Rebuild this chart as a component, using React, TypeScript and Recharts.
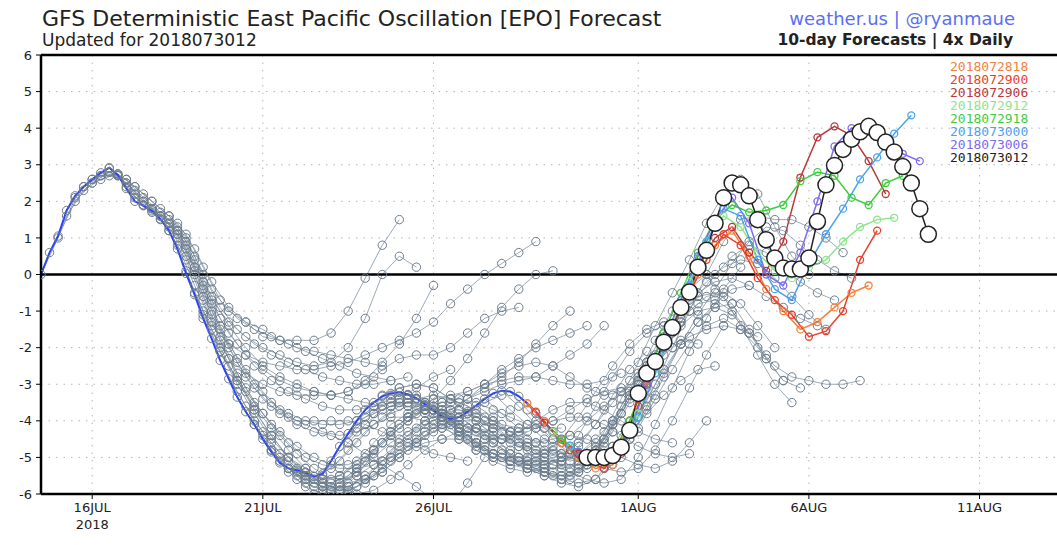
import { LineChart, Line, XAxis, YAxis, CartesianGrid, ReferenceLine } from "recharts"

// x = days since 16 JUL 2018 00Z
const dayTicks = [0, 5, 10, 16, 21, 26]
const dayLabels = ["16JUL", "21JUL", "26JUL", "1AUG", "6AUG", "11AUG"]
const valueTicks = [-6, -5, -4, -3, -2, -1, 0, 1, 2, 3, 4, 5, 6]

// verifying analysis, 6-hourly from 14 JUL 12Z
const analysisStart = -1.5
const analysis = [
  0, 0.6, 1.05, 1.75, 2.15, 2.4, 2.6,
  2.78, 2.92, 2.72, 2.35, 2.0, 1.88, 1.74, 1.52, 1.2, 0.7, 0.03, -0.55,
  -1.2, -1.75, -2.35, -2.85, -3.35, -3.75, -4.1, -4.5, -4.85, -5.15, -5.3, -5.35,
  -5.42, -5.52, -5.45, -5.1, -4.7, -4.35, -4.0, -3.7, -3.5, -3.33, -3.25, -3.22,
  -3.28, -3.38, -3.55, -3.72, -3.88, -3.95, -3.9, -3.75, -3.58, -3.4, -3.25, -3.18,
  -3.2, -3.33, -3.52, -3.75, -4.05, -4.3, -4.5, -4.68, -4.85, -5.0,
]

// older GFS runs (grey) started at 00Z/12Z, 12-hourly values over 10 days
const greyInits = [
  -1.5, -1.0, -0.5, 0.0, 0.5, 1.0, 1.5, 2.0, 2.5, 3.0, 3.5, 4.0, 4.5, 5.0, 5.5,
  6.0, 6.5, 7.0, 7.5, 8.0, 8.5, 9.0, 9.5, 10.0, 10.5, 11.0, 11.5, 12.0, 12.5,
]
const greyRuns = [
  [0, 1.0, 2.1, 2.5, 2.8, 2.6, 2.1, 1.7, 1.3, 0.5, -0.4, -1.0, -1.3, -1.5, -1.8, -2.0, -2.1, -2.2, -2.3, -2.4, -2.5],
  [1.05, 2.0, 2.5, 2.7, 2.6, 2.2, 1.8, 1.4, 0.7, -0.2, -0.9, -1.3, -1.7, -1.8, -1.8, -1.8, -1.6, -1.0, -0.1, 0.8, 1.5],
  [2.15, 2.6, 2.8, 2.5, 2.0, 1.6, 1.1, 0.2, -0.7, -1.3, -1.7, -2.0, -2.2, -2.4, -2.5, -2.4, -2.0, -1.2, 0.0, 0.5, 0.2],
  [2.6, 2.9, 2.5, 2.0, 1.6, 1.2, 0.4, -0.6, -1.4, -2.0, -2.5, -2.8, -3.0, -3.2, -3.3, -3.2, -2.9, -2.4, -1.9, -1.2, -0.3],
  [2.92, 2.4, 1.9, 1.6, 1.2, 0.2, -0.8, -1.6, -2.2, -2.6, -2.9, -3.1, -3.2, -3.3, -3.4, -3.5, -3.6, -3.4, -3.1, -2.8, -2.6],
  [2.35, 1.9, 1.6, 1.1, 0.1, -1.0, -1.9, -2.6, -3.2, -3.7, -4.0, -4.0, -4.0, -4.0, -4.1, -4.3, -4.5, -4.7, -4.9, -5.0, -5.1],
  [1.88, 1.5, 1.0, 0.0, -1.1, -2.0, -2.8, -3.4, -3.8, -4.1, -4.3, -4.4, -4.6, -4.9, -5.2, -5.5, -5.8, -6.2, -6.3, -5.7, -5.0],
  [1.52, 0.8, -0.3, -1.3, -2.3, -3.1, -3.8, -4.4, -4.9, -5.3, -5.6, -5.7, -5.6, -5.4, -5.0, -4.6, -4.3, -4.0, -3.8, -3.5, -3.3],
  [0.7, -0.5, -1.5, -2.3, -2.7, -3.0, -3.2, -3.3, -3.3, -3.3, -3.2, -3.0, -2.6, -2.3, -2.2, -2.2, -2.0, -1.6, -1.2, -1.0, -0.9],
  [-0.55, -1.4, -1.9, -2.2, -2.4, -2.5, -2.6, -2.6, -2.5, -2.4, -2.2, -2.0, -1.8, -1.6, -1.3, -0.8, -0.4, 0.0, 0.3, 0.6, 0.9],
  [-1.75, -2.5, -3.2, -3.8, -4.3, -4.7, -5.0, -5.2, -5.2, -5.0, -4.6, -4.2, -3.8, -3.4, -2.9, -2.3, -1.6, -0.9, -0.4, 0.0, 0.1],
  [-2.85, -3.6, -4.3, -4.9, -5.3, -5.6, -5.8, -5.8, -5.6, -5.3, -4.9, -4.5, -4.1, -3.7, -3.4, -3.1, -2.8, -2.4, -1.9, -1.4, -1.0],
  [-3.75, -4.4, -5.0, -5.4, -5.7, -5.9, -5.9, -5.7, -5.4, -5.0, -4.6, -4.2, -3.8, -3.4, -3.0, -2.6, -2.3, -2.0, -1.8, -1.6, -1.4],
  [-4.5, -5.1, -5.5, -5.8, -5.9, -5.8, -5.5, -5.1, -4.7, -4.3, -4.0, -3.7, -3.4, -3.2, -3.0, -2.9, -2.8, -2.5, -2.2, -1.9, -1.4],
  [-5.15, -5.6, -6.0, -6.2, -6.0, -5.6, -5.1, -4.6, -4.2, -3.8, -3.5, -3.2, -3.0, -2.9, -2.8, -2.8, -2.9, -3.0, -3.0, -2.9, -2.7],
  [-5.35, -5.6, -5.7, -5.5, -5.1, -4.6, -4.1, -3.7, -3.4, -3.3, -3.2, -3.0, -2.7, -2.5, -2.4, -2.5, -2.8, -3.1, -3.3, -3.2, -2.9],
  [-5.52, -5.3, -4.8, -4.3, -3.9, -3.6, -3.4, -3.3, -3.4, -3.6, -3.9, -4.1, -4.2, -4.2, -4.0, -3.7, -3.4, -3.2, -3.1, -3.2, -3.3],
  [-5.1, -4.6, -4.1, -3.7, -3.5, -3.5, -3.7, -4.0, -4.3, -4.5, -4.5, -4.3, -4.0, -3.7, -3.5, -3.5, -3.7, -4.0, -4.3, -4.5, -4.6],
  [-4.35, -3.9, -3.6, -3.4, -3.4, -3.6, -3.9, -4.2, -4.4, -4.5, -4.4, -4.2, -4.0, -3.9, -3.9, -4.1, -4.4, -4.7, -4.9, -5.0, -4.9],
  [-3.7, -3.3, -3.1, -3.0, -3.1, -3.4, -3.8, -4.2, -4.5, -4.6, -4.6, -4.5, -4.4, -4.5, -4.7, -5.0, -5.2, -5.3, -5.1, -4.6, -4.0],
  [-3.33, -3.1, -3.0, -3.1, -3.4, -3.8, -4.2, -4.5, -4.7, -4.8, -4.8, -4.9, -5.1, -5.3, -5.4, -5.3, -4.8, -4.0, -3.1, -2.2, -1.4],
  [-3.22, -3.3, -3.6, -4.0, -4.4, -4.7, -4.9, -5.0, -5.1, -5.2, -5.4, -5.6, -5.7, -5.6, -5.0, -4.1, -3.1, -2.1, -1.2, -0.4, 0.2],
  [-3.38, -3.7, -4.1, -4.5, -4.8, -5.0, -5.0, -4.9, -4.7, -4.4, -4.0, -3.6, -3.2, -2.8, -2.4, -2.0, -1.7, -1.5, -1.4, -1.5, -1.7],
  [-3.72, -4.1, -4.5, -4.8, -5.0, -5.1, -5.2, -5.4, -5.6, -5.3, -4.6, -3.8, -3.0, -2.3, -1.6, -1.0, -0.6, -0.5, -0.8, -1.4, -2.0],
  [-3.95, -4.2, -4.5, -4.8, -5.1, -5.3, -5.5, -5.5, -5.2, -4.5, -3.6, -2.7, -1.8, -1.0, -0.4, 0.0, -0.6, -1.4, -2.2, -3.0, -3.5],
  [-3.75, -4.0, -4.3, -4.7, -5.0, -5.2, -5.3, -5.0, -4.3, -3.4, -2.4, -1.4, -0.5, 0.4, 1.4, 2.2, 2.6, 2.2, 1.3, 0.5, 0.0],
  [-3.4, -3.8, -4.2, -4.6, -4.9, -5.1, -5.0, -4.5, -3.8, -3.0, -2.2, -1.4, -0.7, -0.2, 0.2, 0.4, 0.3, -0.1, -0.6, -1.1, -1.5],
  [-3.18, -3.6, -4.1, -4.5, -4.9, -5.2, -5.3, -4.8, -3.9, -3.0, -2.0, -1.0, 0.0, 0.9, 1.5, 1.6, 1.5, 1.5, 1.3, 1.0, 0.6],
  [-3.33, -3.8, -4.3, -4.7, -5.0, -5.1, -4.8, -4.2, -3.4, -2.6, -1.9, -1.4, -1.2, -1.5, -2.0, -2.5, -2.8, -2.9, -3.0, -3.0, -2.9],
]

// older GFS runs (grey) started at 06Z/18Z
const greyInits2 = [
  -1.25, -0.75, -0.25, 0.25, 0.75, 1.25, 1.75, 2.25, 2.75, 3.25, 3.75, 4.25, 4.75, 5.25,
  5.75, 6.25, 6.75, 7.25, 7.75, 8.25, 8.75, 9.25, 9.75, 10.25, 10.75, 11.25, 11.75, 12.25,
]
const greyRuns2 = [
  [0.6, 1.6, 2.3, 2.6, 2.75, 2.4, 2.0, 1.6, 1.1, 0.2, -0.7, -1.2, -1.5, -1.7, -1.9, -2.1, -2.3, -2.5, -2.7, -2.8, -2.9],
  [1.75, 2.4, 2.7, 2.75, 2.4, 2.0, 1.6, 1.0, 0.0, -0.9, -1.5, -1.9, -2.2, -2.4, -2.6, -2.8, -2.9, -3.0, -3.0, -2.9, -2.8],
  [2.4, 2.7, 2.7, 2.3, 1.8, 1.5, 0.9, -0.2, -1.2, -1.9, -2.5, -2.9, -3.2, -3.4, -3.6, -3.7, -3.7, -3.6, -3.5, -3.5, -3.6],
  [2.78, 2.7, 2.2, 1.8, 1.4, 0.8, -0.3, -1.4, -2.3, -3.0, -3.5, -3.8, -4.0, -4.1, -4.1, -4.0, -3.8, -3.6, -3.5, -3.6, -3.8],
  [2.72, 2.1, 1.8, 1.4, 0.7, -0.4, -1.5, -2.4, -3.1, -3.6, -3.9, -4.1, -4.3, -4.4, -4.3, -4.1, -3.9, -3.9, -4.0, -4.2, -4.4],
  [2.0, 1.7, 1.3, 0.5, -0.6, -1.7, -2.7, -3.5, -4.1, -4.6, -5.0, -5.2, -5.3, -5.3, -5.2, -5.0, -4.8, -4.6, -4.5, -4.5, -4.6],
  [1.74, 1.2, 0.4, -0.7, -1.8, -2.8, -3.7, -4.4, -5.0, -5.4, -5.7, -5.9, -6.0, -5.9, -5.6, -5.2, -4.8, -4.5, -4.3, -4.2, -4.3],
  [1.2, 0.1, -1.0, -2.0, -2.9, -3.7, -4.4, -5.0, -5.5, -5.8, -5.9, -5.8, -5.5, -5.1, -4.7, -4.4, -4.2, -4.1, -4.2, -4.4, -4.6],
  [0.03, -1.1, -2.1, -3.0, -3.8, -4.5, -5.0, -5.3, -5.5, -5.6, -5.5, -5.2, -4.8, -4.4, -4.1, -3.9, -3.9, -4.0, -4.2, -4.3, -4.3],
  [-1.2, -2.1, -2.9, -3.6, -4.2, -4.8, -5.3, -5.7, -5.9, -5.8, -5.5, -5.0, -4.6, -4.3, -4.1, -4.0, -4.0, -4.1, -4.3, -4.5, -4.6],
  [-2.35, -3.2, -4.0, -4.6, -5.1, -5.5, -5.6, -5.5, -5.2, -4.8, -4.4, -4.0, -3.7, -3.5, -3.4, -3.5, -3.7, -3.9, -4.1, -4.2, -4.2],
  [-3.35, -4.1, -4.8, -5.3, -5.6, -5.8, -5.7, -5.4, -5.0, -4.6, -4.3, -4.0, -3.8, -3.7, -3.8, -4.0, -4.3, -4.6, -4.8, -4.9, -4.9],
  [-4.1, -4.8, -5.3, -5.6, -5.8, -5.7, -5.3, -4.8, -4.3, -3.9, -3.6, -3.5, -3.5, -3.7, -4.0, -4.4, -4.7, -4.9, -5.0, -4.9, -4.6],
  [-4.85, -5.4, -5.8, -6.0, -5.9, -5.5, -4.9, -4.4, -4.0, -3.7, -3.6, -3.7, -3.9, -4.2, -4.5, -4.8, -5.0, -5.1, -5.0, -4.7, -4.3],
  [-5.3, -5.7, -5.9, -5.8, -5.4, -4.8, -4.3, -3.9, -3.7, -3.7, -3.9, -4.2, -4.5, -4.8, -5.0, -5.1, -5.1, -4.9, -4.5, -4.0, -3.4],
  [-5.42, -5.6, -5.5, -5.1, -4.6, -4.1, -3.8, -3.6, -3.7, -4.0, -4.3, -4.6, -4.9, -5.1, -5.2, -5.1, -4.7, -4.1, -3.3, -2.6, -2.1],
  [-5.45, -5.1, -4.6, -4.1, -3.8, -3.6, -3.7, -4.0, -4.4, -4.8, -5.1, -5.3, -5.4, -5.3, -5.0, -4.4, -3.6, -2.8, -2.1, -1.6, -1.4],
  [-4.7, -4.2, -3.8, -3.6, -3.6, -3.8, -4.1, -4.5, -4.8, -5.0, -5.1, -5.1, -4.9, -4.5, -3.9, -3.2, -2.5, -1.9, -1.5, -1.3, -1.3],
  [-4.0, -3.6, -3.4, -3.4, -3.6, -3.9, -4.3, -4.6, -4.9, -5.1, -5.2, -5.2, -5.0, -4.6, -4.1, -3.5, -2.9, -2.4, -2.0, -1.8, -1.9],
  [-3.5, -3.3, -3.3, -3.5, -3.8, -4.2, -4.6, -4.9, -5.1, -5.2, -5.3, -5.3, -5.2, -5.0, -4.7, -4.3, -3.8, -3.3, -2.9, -2.6, -2.5],
  [-3.25, -3.3, -3.5, -3.8, -4.2, -4.6, -4.9, -5.1, -5.3, -5.5, -5.6, -5.7, -5.6, -5.2, -4.5, -3.6, -2.7, -1.9, -1.3, -0.9, -0.8],
  [-3.28, -3.5, -3.8, -4.2, -4.6, -4.9, -5.1, -5.3, -5.5, -5.7, -5.8, -5.6, -5.0, -4.2, -3.4, -2.6, -1.9, -1.3, -0.8, -0.4, -0.3],
  [-3.55, -3.9, -4.3, -4.7, -5.0, -5.2, -5.3, -5.4, -5.5, -5.4, -5.0, -4.3, -3.5, -2.7, -2.0, -1.4, -1.0, -0.9, -1.1, -1.6, -2.2],
  [-3.88, -4.2, -4.6, -4.9, -5.1, -5.3, -5.4, -5.6, -5.4, -4.9, -4.1, -3.3, -2.5, -1.8, -1.2, -0.8, -0.7, -1.0, -1.6, -2.3, -2.9],
  [-3.9, -4.2, -4.6, -4.9, -5.2, -5.4, -5.5, -5.3, -4.8, -4.0, -3.2, -2.4, -1.6, -1.0, -0.6, -0.5, -0.8, -1.5, -2.3, -2.9, -3.1],
  [-3.58, -3.9, -4.3, -4.7, -5.0, -5.2, -5.2, -4.8, -4.1, -3.3, -2.5, -1.7, -1.0, -0.5, -0.2, -0.1, -0.3, -0.6, -0.9, -1.2, -1.4],
  [-3.25, -3.7, -4.1, -4.5, -4.9, -5.1, -5.1, -4.7, -4.0, -3.1, -2.2, -1.3, -0.6, 0.0, 0.5, 0.8, 0.6, 0.2, -0.2, -0.5, -0.7],
  [-3.2, -3.7, -4.2, -4.6, -4.9, -5.1, -5.0, -4.5, -3.7, -2.8, -1.9, -1.1, -0.4, 0.3, 0.9, 1.3, 1.2, 0.8, 0.4, 0.1, -0.1],
]

// last eight runs, 12-hourly
const recentNames = [
  "2018072818", "2018072900", "2018072906", "2018072912",
  "2018072918", "2018073000", "2018073006",
]
const recentInits = [12.75, 13.0, 13.25, 13.5, 13.75, 14.0, 14.25]
const recentColors = ["#f5813f", "#e8412b", "#b9383b", "#8fe48f", "#3fcd3f", "#4ba3ef", "#7d6cf0"]
const run072818 = [-3.52, -4.0, -4.6, -5.0, -5.3, -5.2, -4.0, -2.9, -1.9, -0.9, 0.0, 0.8, 1.2, 0.5, -0.4, -1.0, -1.5, -1.3, -0.9, -0.5, -0.3]
const run072900 = [-3.75, -4.3, -4.8, -5.1, -5.3, -4.9, -3.6, -2.5, -1.5, -0.5, 0.4, 1.1, 0.8, -0.1, -0.7, -1.1, -1.7, -1.55, -1.0, 0.4, 1.2]
const run072906 = [-4.05, -4.5, -4.9, -5.1, -5.0, -4.2, -3.0, -1.9, -0.9, 0.2, 1.0, 1.3, 0.6, 0.1, 0.9, 2.65, 3.75, 4.05, 3.8, 3.1, 2.2]
const run072912 = [-4.3, -4.7, -5.0, -5.1, -4.8, -3.8, -2.6, -1.4, -0.2, 0.9, 1.6, 1.3, 0.6, 0.1, -0.1, 0.2, 0.4, 0.9, 1.3, 1.5, 1.55]
const run072918 = [-4.5, -4.85, -5.0, -4.9, -4.0, -2.8, -1.6, -0.5, 0.6, 1.5, 1.9, 1.7, 1.75, 1.9, 2.55, 2.8, 2.7, 2.1, 1.9, 2.5, 2.7]
const run073000 = [-4.68, -5.0, -5.1, -4.8, -3.9, -2.7, -1.5, -0.3, 0.9, 1.8, 1.6, 0.4, -0.4, -0.7, 0.3, 1.1, 1.8, 2.6, 3.2, 3.85, 4.35]
const run073006 = [-4.85, -5.0, -4.9, -4.3, -3.0, -1.8, -0.7, 0.5, 1.5, 2.1, 1.4, 0.0, -0.3, 0.6, 2.0, 3.5, 4.0, 3.9, 3.6, 3.3, 3.1]
const recentRuns = [run072818, run072900, run072906, run072912, run072918, run073000, run073006]

// latest run 2018073012, 6-hourly
const latestName = "2018073012"
const latestStart = 14.5
const latest = [
  -5.0, -5.0, -5.0, -4.95, -4.72, -4.26, -3.25, -2.7, -2.38, -1.85, -1.45, -0.9, -0.48,
  0.2, 0.66, 1.4, 2.1, 2.5, 2.45, 2.15, 1.5, 0.95, 0.45, 0.18, 0.15, 0.15, 0.45,
  1.45, 2.45, 2.98, 3.42, 3.7, 3.9, 4.05, 3.88, 3.62, 3.35, 2.95, 2.5, 1.8, 1.1,
]

const toPoints = (start: number, step: number, vals: number[]) =>
  vals.map((v, i) => ({ x: start + i * step, y: v }))

const FONT = "'DejaVu Sans', sans-serif"

function DayTick({ x, y, payload }: any) {
  const i = dayTicks.indexOf(payload.value)
  return (
    <g>
      <text x={x} y={y + 11} textAnchor="middle" fill="#222" fontSize={13} fontFamily={FONT}>
        {dayLabels[i]}
      </text>
      {i === 0 && (
        <text x={x} y={y + 28} textAnchor="middle" fill="#222" fontSize={13} fontFamily={FONT}>
          2018
        </text>
      )}
    </g>
  )
}

export default function App() {
  const greys = [
    ...greyInits.map((d, k) => ({ d, run: greyRuns[k] })),
    ...greyInits2.map((d, k) => ({ d, run: greyRuns2[k] })),
  ].sort((a, b) => a.d - b.d)
  const legend = [...recentNames, latestName]
  const legendColors = [...recentColors, "#222"]
  return (
    <div
      style={{
        position: "absolute",
        left: 0,
        top: 0,
        width: 1057,
        height: 545,
        overflow: "hidden",
        background: "#fff",
        fontFamily: FONT,
      }}
    >
      <LineChart width={1101} height={545} margin={{ top: 55, right: 2, bottom: 0, left: 0 }}>
        <CartesianGrid stroke="#b5b5b5" strokeDasharray="1.5 6" />
        <XAxis
          type="number"
          dataKey="x"
          domain={[-1.5, 29.5]}
          ticks={dayTicks}
          allowDataOverflow
          height={51}
          tick={<DayTick />}
          tickSize={5}
          tickMargin={2}
          axisLine={{ stroke: "#000", strokeWidth: 2.5 }}
          tickLine={{ stroke: "#000" }}
        />
        <YAxis
          type="number"
          dataKey="y"
          domain={[-6, 6]}
          ticks={valueTicks}
          allowDataOverflow
          width={41}
          tickSize={5}
          tickMargin={4}
          tick={{ fill: "#222", fontSize: 13, fontFamily: FONT }}
          axisLine={{ stroke: "#000", strokeWidth: 2.5 }}
          tickLine={{ stroke: "#000" }}
        />
        <ReferenceLine y={6} stroke="#000" strokeWidth={2.5} />
        {greys.map((g, k) => (
          <Line
            key={"g" + k}
            data={toPoints(g.d, 0.5, g.run)}
            dataKey="y"
            stroke="#8494a4"
            strokeWidth={0.8}
            dot={{ r: 4.2, stroke: "#6d7d8d", strokeWidth: 1, fill: "none" }}
            isAnimationActive={false}
          />
        ))}
        <ReferenceLine y={0} stroke="#000" strokeWidth={2.5} />
        <Line
          data={toPoints(analysisStart, 0.25, analysis)}
          dataKey="y"
          stroke="#2b44f6"
          strokeWidth={2}
          dot={false}
          isAnimationActive={false}
        />
        {recentRuns.map((run, k) => (
          <Line
            key={"r" + k}
            data={toPoints(recentInits[k], 0.5, run)}
            dataKey="y"
            stroke={recentColors[k]}
            strokeWidth={1.5}
            dot={{ r: 3.5, stroke: recentColors[k], strokeWidth: 1.3, fill: "none" }}
            isAnimationActive={false}
          />
        ))}
        <Line
          data={toPoints(latestStart, 0.25, latest)}
          dataKey="y"
          stroke="#222"
          strokeWidth={1.5}
          dot={{ r: 8, stroke: "#222", strokeWidth: 1.5, fill: "#fff" }}
          isAnimationActive={false}
        />
      </LineChart>

      <div style={{ position: "absolute", left: 42, top: 6, fontSize: 22, color: "#222", whiteSpace: "nowrap" }}>
        GFS Deterministic East Pacific Oscillation [EPO] Forecast
      </div>
      <div style={{ position: "absolute", left: 42, top: 30, fontSize: 17, color: "#222", whiteSpace: "nowrap" }}>
        Updated for 2018073012
      </div>
      <div style={{ position: "absolute", right: 42, top: 8, fontSize: 18, color: "#5b6ff2", whiteSpace: "nowrap" }}>
        weather.us | @ryanmaue
      </div>
      <div style={{ position: "absolute", right: 44, top: 31, fontSize: 15.5, fontWeight: 600, color: "#222", whiteSpace: "nowrap" }}>
        10-day Forecasts | 4x Daily
      </div>
      <div style={{ position: "absolute", left: 950, top: 59.5, fontSize: 13, lineHeight: "13px", fontFamily: "'DejaVu Sans Mono', monospace" }}>
        {legend.map((name, i) => (
          <div key={name} style={{ color: legendColors[i] }}>
            {name}
          </div>
        ))}
      </div>
    </div>
  )
}
